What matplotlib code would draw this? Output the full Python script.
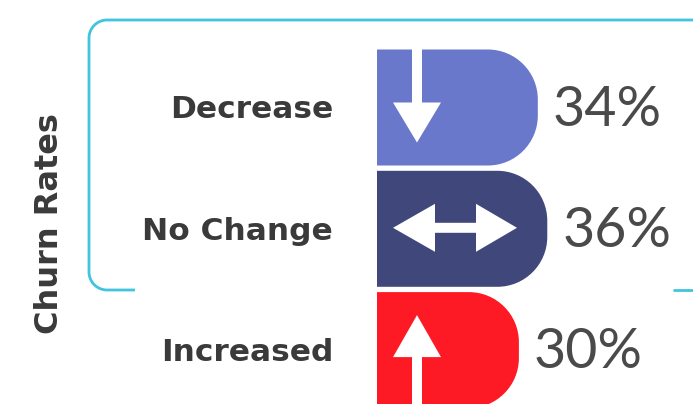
import matplotlib
matplotlib.use("Agg")
import matplotlib.pyplot as plt
from matplotlib.path import Path
from matplotlib.patches import PathPatch, Polygon

# ── Data ──────────────────────────────────────────────────────────────────────
categories = ["Decrease", "No Change", "Increased"]
values = [34, 36, 30]
axis_title = "Churn Rates"

# ── Style ─────────────────────────────────────────────────────────────────────
C_BARS = ["#6a78cb", "#3f477b", "#fe1a24"]
C_TEXT = "#3a3a3a"
C_VAL = "#4a4a4a"
C_CYAN = "#41c4de"
FONT_NUM = ["Lato", "DejaVu Sans"]
FONT_LBL = ["DejaVu Sans"]

W, H = 693, 404
X0_PX = 377          # where 0 % sits
PX_PER_PCT = 4.73
ROW_PX = 121.3
FIRST_ROW_PX = 107.5
BAR_PX = 116
CORNER_PX = 50

fig = plt.figure(figsize=(W / 100, H / 100), dpi=100)
fig.patch.set_facecolor("white")

# overlay in pixel units for the bracket
bg = fig.add_axes([0, 0, 1, 1])
bg.set_xlim(0, W)
bg.set_ylim(H, 0)
bg.axis("off")

# bar axes: x in %, y in rows
ax = fig.add_axes([X0_PX / W, 0, (W - X0_PX) / W, 1])
ax.set_xlim(0, (W - X0_PX) / PX_PER_PCT)
ax.set_ylim((H - FIRST_ROW_PX) / ROW_PX, -FIRST_ROW_PX / ROW_PX)
ax.axis("off")


def px_x(d):
    return d / PX_PER_PCT


def px_y(d):
    return d / ROW_PX


def d_shape(v, yc):
    h = BAR_PX / ROW_PX
    rx, ry = px_x(CORNER_PX), px_y(CORNER_PX)
    k = 0.5523
    t, b = yc - h / 2, yc + h / 2
    verts = [(0, t), (v - rx, t),
             (v - rx + k * rx, t), (v, t + ry - k * ry), (v, t + ry),
             (v, b - ry),
             (v, b - ry + k * ry), (v - rx + k * rx, b), (v - rx, b),
             (0, b), (0, t)]
    codes = [Path.MOVETO, Path.LINETO,
             Path.CURVE4, Path.CURVE4, Path.CURVE4,
             Path.LINETO,
             Path.CURVE4, Path.CURVE4, Path.CURVE4,
             Path.LINETO, Path.CLOSEPOLY]
    return Path(verts, codes)


for i, (v, col) in enumerate(zip(values, C_BARS)):
    ax.add_patch(PathPatch(d_shape(v, i), facecolor=col, edgecolor="none", zorder=2))

# ── Icons (pixel offsets around an anchor) ───────────────────────────────────
down = [(-5, -60), (5, -60), (5, -5), (24, -5), (0, 35), (-24, -5), (-5, -5)]
both = [(-62, 0), (-20, -24), (-20, -5), (21, -5), (21, -24), (62, 0),
        (21, 24), (21, 5), (-20, 5), (-20, 24)]
up = [(0, -35), (24, 7), (5, 7), (5, 62), (-5, 62), (-5, 7), (-24, 7)]
icons = [(down, 40, 0), (both, 78, -1), (up, 40, 0)]
for i, (shape, cx, cy) in enumerate(icons):
    pts = [(px_x(cx + dx), i + px_y(cy + dy)) for dx, dy in shape]
    ax.add_patch(Polygon(pts, closed=True, facecolor="white", edgecolor="none", zorder=3))

# ── Labels ────────────────────────────────────────────────────────────────────
for i, (cat, v) in enumerate(zip(categories, values)):
    ax.annotate(f"{v}%", xy=(v, i), xytext=(15, -18), textcoords="offset pixels",
                ha="left", va="baseline", fontsize=40, fontweight="normal",
                color=C_VAL, family=FONT_NUM, annotation_clip=False)
    ax.annotate(cat, xy=(0, i), xytext=(-44, -11), textcoords="offset pixels",
                ha="right", va="baseline", fontsize=22.5, fontweight="bold",
                color=C_TEXT, family=FONT_LBL, annotation_clip=False)

bg.text(50, 224, axis_title, rotation=90, ha="center", va="center",
        fontsize=23, fontweight="bold", color=C_TEXT, family=FONT_LBL)

# ── Cyan bracket ──────────────────────────────────────────────────────────────
r, k = 18, 0.5523
bx, top, bot = 89, 20, 290
verts = [(135, bot), (bx + r, bot),
         (bx + r - k * r, bot), (bx, bot - r + k * r), (bx, bot - r),
         (bx, top + r),
         (bx, top + r - k * r), (bx + r - k * r, top), (bx + r, top),
         (W + 5, top)]
codes = [Path.MOVETO, Path.LINETO,
         Path.CURVE4, Path.CURVE4, Path.CURVE4,
         Path.LINETO,
         Path.CURVE4, Path.CURVE4, Path.CURVE4,
         Path.LINETO]
bg.add_patch(PathPatch(Path(verts, codes), facecolor="none", edgecolor=C_CYAN,
                       lw=2.0, capstyle="butt", zorder=1))
bg.plot([673, W + 5], [bot, bot], color=C_CYAN, lw=2.0, solid_capstyle="butt", zorder=1)

fig.savefig("out.png", dpi=100, facecolor="white")
plt.close(fig)
